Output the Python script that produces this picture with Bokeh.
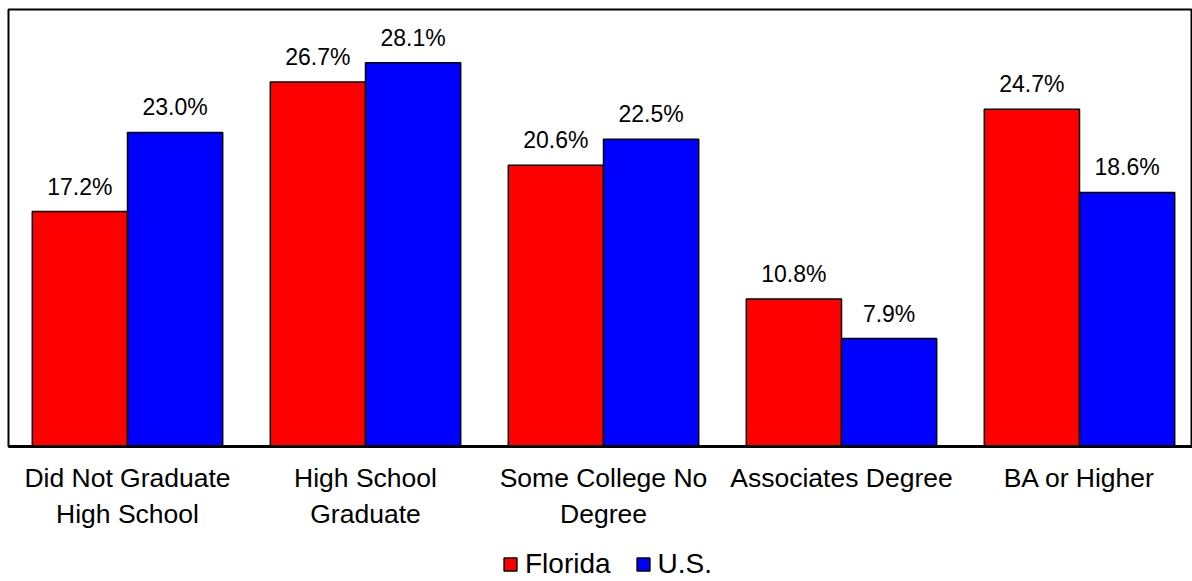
from bokeh.plotting import figure
from bokeh.layouts import column
from bokeh.models import ColumnDataSource, LabelSet, Range1d, FixedTicker, Legend, LegendItem
from bokeh.core.properties import value
from bokeh.embed import file_html
from bokeh.resources import INLINE

categories = ["Did Not Graduate\nHigh School", "High School\nGraduate", "Some College No\nDegree",
              "Associates Degree", "BA or Higher"]
florida = [17.2, 26.7, 20.6, 10.8, 24.7]
us = [23.0, 28.1, 22.5, 7.9, 18.6]
series_names = ["Florida", "U.S."]
series_colors = ["#FF0000", "#0000FF"]

FONT = "Liberation Sans"
centers = [i + 0.5 for i in range(len(categories))]

p = figure(width=1192, height=540, output_backend="svg", toolbar_location=None,
           x_range=Range1d(0, 1184 / 238), y_range=Range1d(0, 32),
           min_border_left=8, min_border_right=0, min_border_top=9, min_border_bottom=94)
p.grid.visible = False
p.yaxis.visible = False
p.outline_line_color = "black"
p.outline_line_width = 2
p.background_fill_color = "white"
p.border_fill_color = "white"

for k, (vals, col) in enumerate(zip([florida, us], series_colors)):
    off = -0.2 if k == 0 else 0.2
    src = ColumnDataSource(dict(x=[c + off for c in centers], top=vals,
                                lab=["%.1f%%" % v for v in vals]))
    p.vbar(x="x", top="top", width=0.4, bottom=0, source=src,
           fill_color=col, line_color="black", line_width=1.5)
    p.add_layout(LabelSet(x="x", y="top", text="lab", source=src, text_align="center",
                          text_baseline="alphabetic", y_offset=17, text_font=value(FONT),
                          text_font_size="23px", text_color="black"))

ax = p.xaxis[0]
ax.ticker = FixedTicker(ticks=centers)
ax.major_label_overrides = {c: lab for c, lab in zip(centers, categories)}
ax.major_label_text_font = FONT
ax.major_label_text_font_size = "26.5px"
ax.major_label_text_color = "black"
ax.major_tick_in = 0
ax.major_tick_out = 0
ax.minor_tick_in = 0
ax.minor_tick_out = 0
ax.major_label_standoff = 16
ax.axis_line_color = "black"
ax.axis_line_width = 3

# legend strip below the chart (swatch renderers are zero-size bars)
p2 = figure(width=1192, height=41, output_backend="svg", toolbar_location=None,
            x_range=Range1d(0, 1), y_range=Range1d(0, 1),
            min_border_left=0, min_border_right=0, min_border_top=0, min_border_bottom=0)
p2.axis.visible = False
p2.grid.visible = False
p2.outline_line_color = None
p2.border_fill_color = "white"
leg_renderers = []
for col in series_colors:
    leg_renderers.append(p2.vbar(x=[0.995], top=[0.5], bottom=[0.5], width=0, fill_color=col,
                                 line_color="black", line_width=1.5))
legend = Legend(items=[LegendItem(label=n, renderers=[r], index=0)
                       for n, r in zip(series_names, leg_renderers)],
                orientation="horizontal", location=(494, 1),
                glyph_width=16, glyph_height=16, label_standoff=7, spacing=24,
                padding=0, margin=0, border_line_color=None, background_fill_alpha=0,
                label_text_font=FONT, label_text_font_size="28px", label_text_color="black")
p2.add_layout(legend, "center")

layout = column(p, p2, spacing=0)
open("out.html", "w").write(file_html(layout, INLINE))
